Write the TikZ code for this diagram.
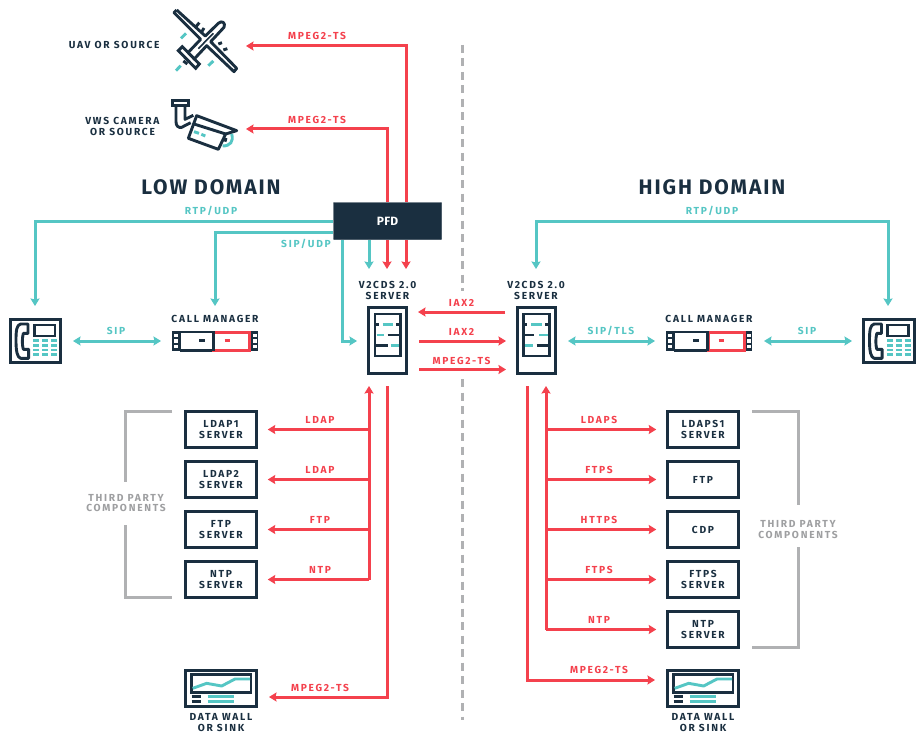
\documentclass[tikz,border=0pt]{standalone}
\usepackage{fontspec}
\setmainfont{Fira Sans}
\usetikzlibrary{arrows.meta,calc}
\definecolor{navy}{HTML}{1A2F40}
\definecolor{tealc}{HTML}{55C6C4}
\definecolor{redc}{HTML}{F4414D}
\definecolor{grayc}{HTML}{B0B1B3}
\newcommand{\lbf}{\addfontfeatures{LetterSpace=17}\bfseries\fontsize{10.2}{10.8}\selectfont}
\tikzset{
 x=1pt,y=-1pt,
 lab/.style={inner sep=0pt,outer sep=0pt,align=center,font=\lbf,text=navy},
 rlab/.style={lab,text=redc},
 tlab/.style={lab,text=tealc},
 glab/.style={lab,text=grayc!90!black},
 title/.style={inner sep=0pt,font=\addfontfeatures{LetterSpace=9}\bfseries\fontsize{21}{23}\selectfont,text=navy},
 redl/.style={draw=redc,line width=3pt,line join=miter},
 teall/.style={draw=tealc,line width=3pt,line join=miter},
 grayl/.style={draw=grayc,line width=3pt},
 tipr/.style={-{Stealth[length=7.5pt,width=9pt,inset=1pt]}},
 tipb/.style={{Stealth[length=7.5pt,width=9pt,inset=1pt]}-{Stealth[length=7.5pt,width=9pt,inset=1pt]}},
 box/.style={draw=navy,fill=white,line width=3pt,minimum width=71.5pt,minimum height=35.5pt,inner sep=0pt,outer sep=0pt,align=center,font=\lbf,text=navy},
 ghost/.style={inner sep=0pt,outer sep=0pt,minimum width=#1,minimum height=#1},
 nv/.style={draw=navy,line width=2.9pt},
 tl/.style={draw=tealc,line width=2.9pt},
 rd/.style={draw=redc,line width=2.9pt},
 pics/serverL/.style={code={
  \begin{scope}[xscale=1/3,yscale=1/3]
   \draw[nv] (165,372) rectangle (242,498);
   \draw[nv] (165,403)--(178,403) (228,403)--(242,403) (203,435)--(242,435) (165,467)--(203,467);
   \draw[tl] (188,403)--(218,403) (170,435)--(192,435) (212,467)--(238,467);
  \end{scope}}},
 pics/serverR/.style={code={
  \begin{scope}[xscale=1/3,yscale=1/3]
   \draw[nv] (610,372) rectangle (688,498);
   \draw[nv] (610,403)--(622,403) (675,403)--(688,403) (610,435)--(643,435) (650,467)--(688,467);
   \draw[tl] (633,403)--(665,403) (658,435)--(684,435) (615,467)--(640,467);
  \end{scope}}},
 pics/phone/.style={code={
  \begin{scope}[xscale=1/3,yscale=1/3]
   \draw[nv,line join=round] (78,72) -- (62,72) .. controls (50,75) and (48,90) .. (48,122) .. controls (48,155) and (52,172) .. (62,175) -- (86,175) -- (86,148) -- (70,148) .. controls (66,135) and (66,115) .. (70,100) -- (84,100) -- (84,72) -- cycle;
   \draw[nv] (103,75) rectangle (165,108);
   \foreach \yy in {122,136,150,164}{
    \draw[tl] (100,\yy)--(118,\yy) (127,\yy)--(145,\yy) (153,\yy)--(172,\yy);}
  \end{scope}}},
 pics/callm/.style={code={
  \begin{scope}[xscale=1/3,yscale=1/3]
   \fill[navy] (517,93) rectangle (542,154);
   \fill[navy] (750,93) rectangle (775,154);
   \foreach \yy in {102,118,134}{
    \fill[white] (523,\yy) rectangle (533,\yy+10);
    \fill[white] (760,\yy) rectangle (770,\yy+10);}
   \draw[nv] (540,96) -- (642,96) (540,151) -- (642,151);
   \draw[rd,line width=3pt] (642,96) rectangle (750,151);
   \draw[nv] (641,93)--(641,154);
   \draw[nv] (598,122)--(615,122);
   \draw[rd] (674,122)--(691,122);
  \end{scope}}},
 pics/wall/.style={code={
  \begin{scope}[xscale=1/3,yscale=1/3]
   \draw[nv] (65,43) rectangle (243,97);
   \draw[tl,line join=round] (68,85)--(110,70)--(155,78)--(195,57)--(240,57);
   \draw[nv] (65,110)--(93,110) (65,124)--(93,124);
   \draw[tl] (113,110)--(192,110) (113,124)--(192,124);
  \end{scope}}},
}
\begin{document}
\begin{tikzpicture}
\useasboundingbox (0,0) rectangle (921,733);
\fill[white] (0,0) rectangle (921,733);

% domain divider
\node[ghost=0pt] (divtop) at (462,45) {};
\node[ghost=0pt] (divmid1) at (462,291) {};
\node[ghost=0pt] (divmid2) at (462,379) {};
\node[ghost=0pt] (divbot) at (462,720) {};
\draw[grayl,dash pattern=on 8pt off 5.5pt] (divtop) -- (divmid1);
\draw[grayl,dash pattern=on 8pt off 5.5pt] (divmid2) -- (divbot);

% titles
\node[title] (lowt) at (211,187) {LOW DOMAIN};
\node[title] (hight) at (712,187) {HIGH DOMAIN};

% main boxes
\node[draw=navy,fill=navy,minimum width=108pt,minimum height=37pt,inner sep=0pt,outer sep=0pt,rounded corners=0.5pt,text=white,font=\bfseries\fontsize{12}{14}\selectfont\addfontfeatures{LetterSpace=2}] (pfd) at (387.5,221) {PFD};
\node[box,minimum width=37.5pt,minimum height=65.5pt] (srvL) at (387.5,340.5) {};
\node[box,minimum width=37.5pt,minimum height=65.5pt] (srvR) at (536.5,340.5) {};
\pic at (320,190) {serverL};
\pic at (320,190) {serverR};
\node[lab,anchor=south] (srvLt) at (387.5,299.5) {V2CDS 2.0\\SERVER};
\node[lab,anchor=south] (srvRt) at (536,299.5) {V2CDS 2.0\\SERVER};

% UAV
\node[ghost=64pt] (uav) at (206,41) {};
\begin{scope}[shift={(50,0)},xscale=1/3,yscale=1/3]
 \draw[nv,line join=round] (380,30) -- (466,108) -- (505,70) .. controls (515,60) and (528,68) .. (522,82) -- (482,125) -- (560,205) -- (552,215) -- (470,137) -- (430,180);
 \draw[nv,line join=round] (380,30) -- (372,38) -- (452,118) -- (412,160);
 \draw[nv,line width=1.6pt] (490,100)--(445,146);
 \draw[nv,line join=miter] (385,152) -- (397,140) -- (448,192) -- (437,205) -- cycle;
 \draw[nv] (400,183) -- (412,192);
 \draw[nv] (438,80)--(448,68) (455,96)--(462,84) (505,132)--(516,128) (520,150)--(532,146);
 \draw[tl] (393,115)--(408,100) (378,212)--(392,197) (475,197)--(490,183);
\end{scope}
\node[lab,anchor=east] (uavt) at (159.5,45) {UAV OR SOURCE};

% Camera
\node[ghost=64pt] (cam) at (205,125) {};
\begin{scope}[shift={(50,0)},xscale=1/3,yscale=1/3]
 \draw[nv] (367,301) rectangle (416,317);
 \draw[nv,line join=round] (378,318) -- (378,365) .. controls (378,378) and (385,384) .. (395,382) -- (422,368);
 \draw[nv,line join=round] (405,318) -- (405,358) -- (430,346);
 \draw[nv,line join=round] (440,347) -- (560,392) -- (527,402) -- (505,448) -- (415,415) -- cycle;
 \draw[nv] (432,372) -- (527,402);
 \draw[tl] (545,402) .. controls (552,425) and (540,438) .. (518,438);
 \draw[nv] (528,414)--(525,425);
 \draw[tl] (432,395)--(447,400) (454,403)--(466,408);
\end{scope}
\node[lab,anchor=east] (camt) at (159.5,126.5) {VWS CAMERA\\OR SOURCE};

% Phones
\node[draw=navy,fill=white,line width=3pt,minimum width=50.5pt,minimum height=43.5pt,inner sep=0pt,outer sep=0pt] (phL) at (35.5,341) {};
\pic at (0,300) {phone};
\node[draw=navy,fill=white,line width=3pt,minimum width=50.5pt,minimum height=43.5pt,inner sep=0pt,outer sep=0pt] (phR) at (889,341) {};
\pic at (853.5,300) {phone};

% Call managers
\node[ghost=0pt,minimum width=86pt,minimum height=20pt] (cmL) at (215,341) {};
\pic at (0,300) {callm};
\node[lab,anchor=base] (cmLt) at (215,322.5) {CALL MANAGER};
\node[ghost=0pt,minimum width=86pt,minimum height=20pt] (cmR) at (709,341) {};
\pic at (494,300) {callm};
\node[lab,anchor=base] (cmRt) at (709,322.5) {CALL MANAGER};

% Third-party boxes low
\node[box] (ldap1) at (221,429.5) {LDAP1\\SERVER};
\node[box] (ldap2) at (221,479.5) {LDAP2\\SERVER};
\node[box] (ftpL) at (221,529.5) {FTP\\SERVER};
\node[box] (ntpL) at (221,579.5) {NTP\\SERVER};
% high
\node[box] (ldaps) at (703,429.5) {LDAPS1\\SERVER};
\node[box] (ftpR) at (703,479.5) {FTP};
\node[box] (cdp) at (703,529.5) {CDP};
\node[box] (ftps) at (703,579.5) {FTPS\\SERVER};
\node[box] (ntpR) at (703,629.5) {NTP\\SERVER};
% data walls
\node[box] (wallL) at (221,688.5) {};
\pic at (170,660) {wall};
\node[box] (wallR) at (703,688.5) {};
\pic at (652,660) {wall};
\node[lab,anchor=north] (wallLt) at (221,713.5) {DATA WALL\\OR SINK};
\node[lab,anchor=north] (wallRt) at (703,713.5) {DATA WALL\\OR SINK};

% brackets
\node[glab] (tpL) at (126,503) {THIRD PARTY\\COMPONENTS};
\node[glab] (tpR) at (798,529.5) {THIRD PARTY\\COMPONENTS};
\coordinate (bl1) at (172,411); \coordinate (bl2) at (125,482);
\coordinate (bl3) at (125,525); \coordinate (bl4) at (172,597);
\draw[grayl] (bl1) -| (bl2);
\draw[grayl] (bl3) |- (bl4);
\coordinate (br1) at (752,411); \coordinate (br2) at (798,505);
\coordinate (br3) at (798,547); \coordinate (br4) at (752,647);
\draw[grayl] (br1) -| (br2);
\draw[grayl] (br3) |- (br4);

% PFD up to sources (red)
\coordinate (uavin) at (246,46);
\coordinate (camin) at (246,129);
\coordinate (pfdR1) at (406,202);
\coordinate (pfdR2) at (387,202);
\draw[redl,tipr] (pfdR1) |- (uavin);
\draw[redl,tipr] (pfdR2) |- (camin);
\node[rlab] (m1) at (317,36) {MPEG2-TS};
\node[rlab] (m2) at (317,119.5) {MPEG2-TS};

% PFD down to server
\coordinate (dT) at (369,240); \coordinate (dT2) at (369,269);
\coordinate (dR1) at (387,240); \coordinate (dR12) at (387,269);
\coordinate (dR2) at (406,240); \coordinate (dR22) at (406,269);
\draw[teall,tipr] (dT) -- (dT2);
\draw[redl,tipr] (dR1) -- (dR12);
\draw[redl,tipr] (dR2) -- (dR22);

% teal RTP etc low
\coordinate (pl) at (333,221); \coordinate (phLin) at (35,306);
\coordinate (pl2) at (333,232); \coordinate (cmLin) at (215,306);
\coordinate (pl3) at (342,240); \coordinate (srvLin) at (357,341);
\draw[teall,tipr] (pl) -| (phLin);
\draw[teall,tipr] (pl2) -| (cmLin);
\draw[teall,tipr] (pl3) |- (srvLin);
\node[tlab] (rtpL) at (211,211) {RTP/UDP};
\node[tlab] (sipudp) at (306,244) {SIP/UDP};

% teal high
\coordinate (srvRin) at (536,269); \coordinate (phRin) at (888,306); \coordinate (hy) at (712,221);
\draw[teall,tipr] (hy) -| (srvRin);
\draw[teall,tipr] (hy) -| (phRin);
\node[tlab] (rtpR) at (712,211) {RTP/UDP};

% SIP links
\coordinate (a1) at (73,341); \coordinate (a2) at (161,341);
\draw[teall,tipb] (a1) -- (a2);
\node[tlab] (sip1) at (116,331) {SIP};
\coordinate (a3) at (568,341); \coordinate (a4) at (655,341);
\draw[teall,tipb] (a3) -- (a4);
\node[tlab] (sip2) at (611,331) {SIP/TLS};
\coordinate (a5) at (764,341); \coordinate (a6) at (852,341);
\draw[teall,tipb] (a5) -- (a6);
\node[tlab] (sip3) at (807,331) {SIP};

% IAX
\coordinate (i1) at (505,312); \coordinate (i2) at (418,312);
\coordinate (i3) at (419,341); \coordinate (i4) at (506,341);
\coordinate (i5) at (419,369.5); \coordinate (i6) at (506,369.5);
\draw[redl,tipr] (i1) -- (i2);
\draw[redl,tipr] (i3) -- (i4);
\draw[redl,tipr] (i5) -- (i6);
\node[rlab] (ia1) at (461.5,303) {IAX2};
\node[rlab] (ia2) at (461.5,331.5) {IAX2};
\node[rlab] (ia3) at (461.5,360.5) {MPEG2-TS};

% low bus
\coordinate (busLt) at (369,386); \coordinate (busLb) at (369,580);
\draw[redl,tipr] (busLb) -- (busLt);
\foreach \n in {ldap1,ldap2,ftpL,ntpL}{
 \draw[redl,tipr] (busLb |- \n.east) -- ([xshift=11pt]\n.east);}
\node[rlab] at (320,420) {LDAP};
\node[rlab] at (320,470) {LDAP};
\node[rlab] at (320,520) {FTP};
\node[rlab] at (320,570) {NTP};
\coordinate (srvLb) at (387,386);
\coordinate (wallLin) at (269,697);
\draw[redl,tipr] (srvLb) |- (wallLin);
\node[rlab] at (320,688) {MPEG2-TS};

% high bus
\coordinate (busRt) at (546,386); \coordinate (busRb) at (546,629.5);
\draw[redl,tipr] (busRb) -- (busRt);
\foreach \n in {ldaps,ftpR,cdp,ftps,ntpR}{
 \draw[redl,tipr] (busRb |- \n.west) -- ([xshift=-11pt]\n.west);}
\node[rlab] at (599,420) {LDAPS};
\node[rlab] at (599,470) {FTPS};
\node[rlab] at (599,520) {HTTPS};
\node[rlab] at (599,570) {FTPS};
\node[rlab] at (599,620) {NTP};
\coordinate (srvRb) at (527,386);
\coordinate (wallRy) at (527,680);
\coordinate (wallRin) at (655,680);
\draw[redl,tipr] (srvRb) -- (wallRy) -- (wallRin);
\node[rlab] at (599,670) {MPEG2-TS};
\end{tikzpicture}
\end{document}
